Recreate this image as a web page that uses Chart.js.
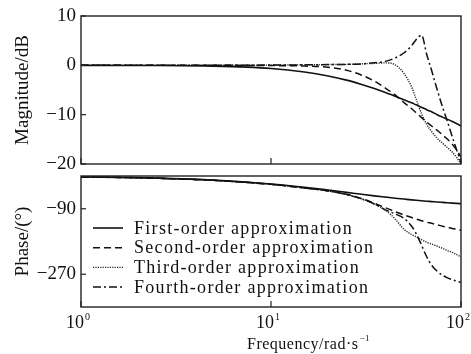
<!DOCTYPE html>
<html>
<head>
<meta charset="utf-8">
<script src="https://cdn.jsdelivr.net/npm/chart.js@4.4.1/dist/chart.umd.min.js"></script>
<style>
  html, body { margin: 0; padding: 0; background: #fff; }
  #wrap { position: relative; width: 471px; height: 354px; }
  .box { position: absolute; left: 0; width: 471px; }
</style>
</head>
<body>
<div id="wrap">
  <div class="box" style="top:0;height:170px"><canvas id="magChart" width="471" height="170"></canvas></div>
  <div class="box" style="top:170px;height:184px"><canvas id="phaseChart" width="471" height="184"></canvas></div>
</div>
<script>
// frequency grid (rad/s), shared by all series
const frequencies = [1, 2, 5, 10, 15, 20, 25, 30, 35, 40, 45, 50, 55, 58, 62, 66, 70, 75, 80, 85, 90, 95, 100];

// magnitude (dB)
const magFirst  = [0, -0.03, -0.17, -0.64, -1.34, -2.15, -3.0, -3.87, -4.7, -5.5, -6.25, -7.0, -7.6, -8.0, -8.5, -9.0, -9.4, -10.0, -10.5, -10.95, -11.4, -11.85, -12.3];
const magSecond = [0, 0, 0, -0.05, -0.15, -0.4, -1.0, -2.0, -3.2, -4.6, -6.0, -7.5, -8.8, -9.6, -10.6, -11.5, -12.3, -13.2, -14.1, -15.0, -16.0, -17.2, -18.6];
const magThird  = [0, 0, 0, 0.05, 0.1, 0.15, 0.2, 0.3, 0.4, 0.5, 0.1, -1.6, -4.4, -6.8, -9.8, -12.0, -13.4, -14.8, -15.8, -16.7, -17.6, -18.7, -20];
const magFourth = [0, 0, 0, 0.05, 0.1, 0.15, 0.2, 0.3, 0.5, 0.8, 1.5, 2.5, 4.0, 5.2, 6.1, 2.2, -1.0, -5.0, -8.5, -11.5, -14.5, -17.2, -19.8];

// phase (deg)
const phaseFirst  = [-2.3, -4.6, -11.3, -21.8, -31, -38.7, -45, -50.2, -54.5, -58, -61, -63.4, -65.6, -66.7, -68, -69.3, -70.3, -71.6, -72.6, -73.6, -74.5, -75.3, -76];
const phaseSecond = [-2.5, -5, -12, -23, -33, -41, -50, -62, -75, -87, -98, -107, -114, -118, -123, -127, -130, -134, -138, -141, -144, -147, -149];
const phaseThird  = [-2.5, -5, -12, -23, -33, -41, -51, -63, -77, -94, -118, -146, -161, -167, -175, -182, -187, -193, -199, -205, -210, -216, -222];
const phaseFourth = [-2.5, -5, -12, -23, -33, -41, -51, -63, -77, -93, -104, -116, -138, -158, -190, -222, -245, -262, -273, -280, -285, -289, -292];

const seriesNames = ["First-order approximation", "Second-order approximation", "Third-order approximation", "Fourth-order approximation"];

const magTicks = [10, 0, -10, -20];
const phaseTicks = [-90, -270];
const freqTicks = [1, 10, 100];
const freqTickExponents = ["0", "1", "2"];

const SERIF = '"Liberation Serif", "Times New Roman", serif';
const INK = "#111";

const lineStyles = [
    { borderDash: [], borderWidth: 1.6, borderColor: "#111" },
    { borderDash: [7, 4], borderWidth: 1.5, borderColor: "#111" },
    { borderDash: [1.2, 1.2], borderWidth: 1.4, borderColor: "#222" },
    { borderDash: [8, 3, 2, 3], borderWidth: 1.5, borderColor: "#111" },
];

function makeDatasets(values) {
    return values.map((v, i) => ({
        label: seriesNames[i],
        data: frequencies.map((f, k) => ({ x: f, y: v[k] })),
        borderDash: lineStyles[i].borderDash,
        borderWidth: lineStyles[i].borderWidth,
        borderColor: lineStyles[i].borderColor,
        pointRadius: 0,
        fill: false,
        cubicInterpolationMode: "monotone",
    }));
}

function strokeLine(ctx, x1, y1, x2, y2) {
    ctx.beginPath();
    ctx.moveTo(x1, y1);
    ctx.lineTo(x2, y2);
    ctx.stroke();
}

const decorPlugin = {
    id: "decor",
    afterDraw(chart, args, opts) {
        const ctx = chart.ctx;
        const area = chart.chartArea;
        const xs = chart.scales.x;
        const ys = chart.scales.y;
        ctx.save();

        // frame
        ctx.strokeStyle = "#222";
        ctx.lineWidth = 1.4;
        ctx.setLineDash([]);
        ctx.strokeRect(area.left, area.top, area.right - area.left, area.bottom - area.top);

        // inward ticks
        ctx.lineWidth = 1.2;
        ys.ticks.forEach(t => {
            const py = ys.getPixelForValue(t.value);
            strokeLine(ctx, area.left, py, area.left + 5, py);
        });
        freqTicks.forEach(v => {
            const px = xs.getPixelForValue(v);
            strokeLine(ctx, px, area.bottom, px, area.bottom - 6);
        });

        // y title
        ctx.fillStyle = INK;
        ctx.font = "19px " + SERIF;
        ctx.textAlign = "center";
        ctx.textBaseline = "middle";
        ctx.save();
        ctx.translate(23, (area.top + area.bottom) / 2);
        ctx.rotate(-Math.PI / 2);
        ctx.fillText(opts.yTitle, 0, 0);
        ctx.restore();

        if (opts.bottom) {
            // x tick labels 10^n
            freqTicks.forEach((v, i) => {
                const px = xs.getPixelForValue(v);
                ctx.font = "18px " + SERIF;
                ctx.textAlign = "right";
                ctx.textBaseline = "middle";
                ctx.fillText("10", px + 3, area.bottom + 16);
                ctx.font = "10px " + SERIF;
                ctx.textAlign = "left";
                ctx.fillText(freqTickExponents[i], px + 4, area.bottom + 10);
            });

            // x title
            ctx.font = "16px " + SERIF;
            ctx.textAlign = "left";
            ctx.textBaseline = "middle";
            ctx.letterSpacing = "0.5px";
            const tx = 247;
            const ty = area.bottom + 38;
            ctx.fillText("Frequency/rad\u00b7s", tx, ty);
            const w = ctx.measureText("Frequency/rad\u00b7s").width;
            ctx.font = "9px " + SERIF;
            ctx.fillText("\u22121", tx + w + 1, ty - 6);
            ctx.letterSpacing = "0px";

            // legend
            chart.data.datasets.forEach((ds, i) => {
                const ly = area.top + 52 + i * 19.7;
                ctx.strokeStyle = ds.borderColor;
                ctx.lineWidth = ds.borderWidth;
                ctx.setLineDash(ds.borderDash);
                strokeLine(ctx, area.left + 12, ly, area.left + 42, ly);
                ctx.setLineDash([]);
                ctx.fillStyle = INK;
                ctx.font = "18px " + SERIF;
                ctx.letterSpacing = "1.3px";
                ctx.textAlign = "left";
                ctx.textBaseline = "middle";
                ctx.fillText(ds.label, area.left + 53, ly + 1);
                ctx.letterSpacing = "0px";
            });
        }
        ctx.restore();
    },
};

function makeChart(canvasId, values, yMin, yMax, yTicks, yTitle, isBottom) {
    return new Chart(document.getElementById(canvasId), {
        type: "line",
        data: { datasets: makeDatasets(values) },
        options: {
            responsive: false,
            animation: false,
            events: [],
            layout: { padding: isBottom ? { top: 6, right: 10, bottom: 0, left: 0 } : { top: 16, right: 10, bottom: 6, left: 0 } },
            plugins: {
                legend: { display: false },
                tooltip: { enabled: false },
                decor: { yTitle: yTitle, bottom: isBottom },
            },
            scales: {
                x: {
                    type: "logarithmic",
                    min: 1,
                    max: 100,
                    grid: { display: false, drawTicks: false },
                    border: { display: false },
                    ticks: { display: false },
                    afterFit: s => {
                        s.height = isBottom ? 47 : 0;
                        s.paddingLeft = 0;
                        s.paddingRight = 0;
                    },
                },
                y: {
                    min: yMin,
                    max: yMax,
                    afterBuildTicks: s => { s.ticks = yTicks.map(v => ({ value: v })); },
                    afterFit: s => {
                        s.width = 81;
                        s.paddingTop = 0;
                        s.paddingBottom = 0;
                    },
                    grid: { display: false, drawTicks: false },
                    border: { display: false },
                    ticks: {
                        padding: 5,
                        color: INK,
                        font: { family: SERIF, size: 19 },
                        callback: v => String(v).replace("-", "\u2212"),
                    },
                },
            },
        },
        plugins: [decorPlugin],
    });
}

makeChart("magChart", [magFirst, magSecond, magThird, magFourth], -20, 10, magTicks, "Magnitude/dB", false);
makeChart("phaseChart", [phaseFirst, phaseSecond, phaseThird, phaseFourth], -360, 0, phaseTicks, "Phase/(\u00b0)", true);
</script>
</body>
</html>
